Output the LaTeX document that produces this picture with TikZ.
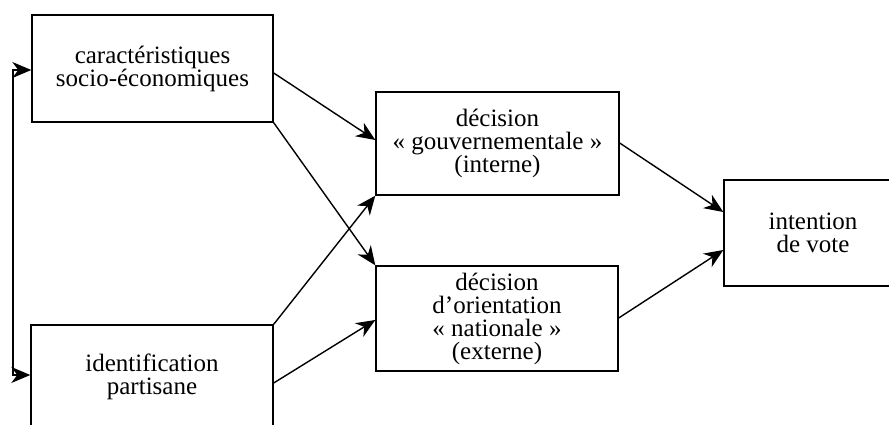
\documentclass[tikz,border=0pt]{standalone}
\usepackage{fontspec}
\setmainfont{Liberation Serif}
\usetikzlibrary{arrows.meta}
\begin{document}
\begin{tikzpicture}[x=1pt,y=-1pt,
  box/.style={draw, line width=1.4pt, inner sep=0pt, align=center,
    font=\fontsize{25}{23}\selectfont},
  conn/.style={line width=1.4pt, -{Stealth[length=19pt,width=16pt,inset=6pt]}}]
\useasboundingbox (0,0) rectangle (889,425);
\node[box, minimum width=241pt, minimum height=107pt] (A) at (152.5,68.5) {caractéristiques\\socio-économiques};
\node[box, minimum width=242pt, minimum height=104pt] (B) at (152,377) {identification\\partisane};
\node[box, minimum width=243pt, minimum height=103pt] (C) at (497.5,143.5) {décision\\« gouvernementale »\\(interne)};
\node[box, minimum width=242pt, minimum height=105pt] (D) at (497,318.5) {décision\\d’orientation\\« nationale »\\(externe)};
\node[box, minimum width=178pt, minimum height=106pt] (E) at (813,233) {intention\\de vote};
\coordinate (f1) at (13,70);
\coordinate (f2) at (13,375);
\draw[conn] (f1) -- (f2) -- (B.west |- f2);
\draw[conn] (f2) -- (f1) -- (A.west |- f1);
\draw[conn] (A.east |- {(0,73)}) -- (C.west |- {(0,140)});
\draw[conn] (A.south east) -- (D.north west);
\draw[conn] (B.north east) -- (C.south west);
\draw[conn] (B.east |- {(0,383)}) -- (D.west |- {(0,320)});
\draw[conn] (C.east |- {(0,143)}) -- (E.west |- {(0,212)});
\draw[conn] (D.east |- {(0,318)}) -- (E.west |- {(0,250)});
\end{tikzpicture}
\end{document}
